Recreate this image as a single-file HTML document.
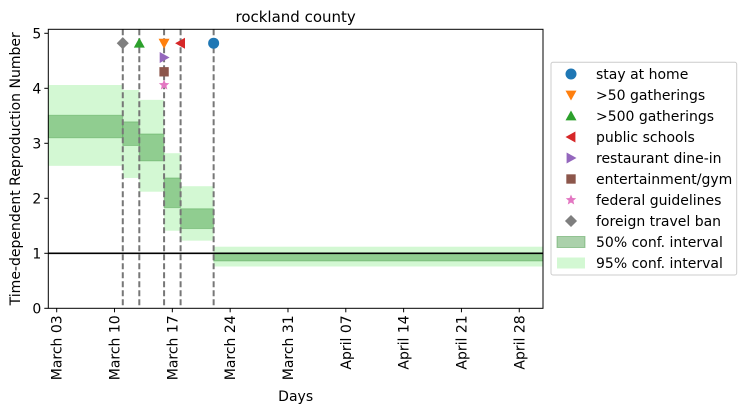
<!DOCTYPE html>
<html><head><meta charset="utf-8"><style>
body{margin:0;background:#fff;}
svg{display:block;font-family:"DejaVu Sans","Liberation Sans",sans-serif;}
</style></head><body>
<svg id="chart" width="746" height="412" viewBox="0 0 746 412" xmlns="http://www.w3.org/2000/svg"></svg>
<script>
const segStarts = [-1, 8, 10, 13, 15, 19];
const segEnds = [8, 10, 13, 15, 19, 59];
const ci95Low = [2.59, 2.37, 2.12, 1.41, 1.23, 0.76];
const ci95High = [4.06, 3.97, 3.79, 2.82, 2.22, 1.12];
const ci50Low = [3.10, 2.96, 2.68, 1.83, 1.45, 0.86];
const ci50High = [3.51, 3.39, 3.17, 2.37, 1.81, 1.00];
const eventNames = ["stay at home", ">50 gatherings", ">500 gatherings", "public schools", "restaurant dine-in", "entertainment/gym", "federal guidelines", "foreign travel ban"];
const eventDays = [19, 13, 10, 15, 13, 13, 13, 8];
const eventLevels = [4.82, 4.82, 4.82, 4.82, 4.56, 4.30, 4.06, 4.82];
const eventColors = ["#1f77b4", "#ff7f0e", "#2ca02c", "#d62728", "#9467bd", "#8c564b", "#e377c2", "#7f7f7f"];
const eventShapes = ["circle", "tdown", "tup", "tleft", "tright", "square", "star", "diamond"];
const xTickDays = [0, 7, 14, 21, 28, 35, 42, 49, 56];
const xTickLabels = ["March 03", "March 10", "March 17", "March 24", "March 31", "April 07", "April 14", "April 21", "April 28"];
const yTicks = [0, 1, 2, 3, 4, 5];

const L = 48.3, R = 543, T = 29.3, B = 308.3;
const x = d => 56.7 + d * 8.26;
const y = v => 308.3 - v * 55;
const svg = document.getElementById('chart');
const NS = "http://www.w3.org/2000/svg";
function mk(tag, attrs, parent) {
  const e = document.createElementNS(NS, tag);
  for (const k in attrs) e.setAttribute(k, attrs[k]);
  (parent || svg).appendChild(e);
  return e;
}
function marker(shape, cx, cy, r, color, parent) {
  let e;
  if (shape === "circle") e = mk('circle', {cx, cy, r: r}, parent);
  else if (shape === "square") e = mk('rect', {x: cx - r * 0.85, y: cy - r * 0.85, width: r * 1.7, height: r * 1.7}, parent);
  else {
    let pts;
    if (shape === "tdown") pts = [[-r, -r * 0.8], [r, -r * 0.8], [0, r]];
    else if (shape === "tup") pts = [[-r, r * 0.8], [r, r * 0.8], [0, -r]];
    else if (shape === "tleft") pts = [[r * 0.8, -r], [r * 0.8, r], [-r, 0]];
    else if (shape === "tright") pts = [[-r * 0.8, -r], [-r * 0.8, r], [r, 0]];
    else if (shape === "diamond") pts = [[0, -r * 1.1], [r * 1.1, 0], [0, r * 1.1], [-r * 1.1, 0]];
    else { pts = []; for (let i = 0; i < 10; i++) { const a = -Math.PI / 2 + i * Math.PI / 5; const rr = i % 2 ? r * 0.45 : r; pts.push([rr * Math.cos(a), rr * Math.sin(a)]); } }
    e = mk('polygon', {points: pts.map(p => (cx + p[0]) + ',' + (cy + p[1])).join(' ')}, parent);
  }
  e.setAttribute('fill', color);
  return e;
}
const plot = mk('g', {});


for (let i = 0; i < segStarts.length; i++) {
  const x0 = Math.max(L, x(segStarts[i])), x1 = Math.min(R, x(segEnds[i]));
  const r95 = mk('rect', {x: x0, y: y(ci95High[i]), width: x1 - x0, height: y(ci95Low[i]) - y(ci95High[i]), fill: '#90ee90', 'fill-opacity': 0.4}, plot);
  
  
  const r50 = mk('rect', {x: x0, y: y(ci50High[i]), width: x1 - x0, height: y(ci50Low[i]) - y(ci50High[i]), fill: '#2e8b2e', 'fill-opacity': 0.4, stroke: '#2e8b2e', 'stroke-opacity': 0.3}, plot);
  
  
}
const one = mk('line', {x1: L, x2: R, y1: y(1), y2: y(1), stroke: '#000', 'stroke-width': 1.6}, plot);


[...new Set(eventDays)].forEach(d => {
  const l = mk('line', {x1: x(d), x2: x(d), y1: T, y2: B, stroke: '#777', 'stroke-width': 2, 'stroke-dasharray': '6,3'}, plot);
  
  
});
for (let i = 0; i < eventNames.length; i++) {
  const m = marker(eventShapes[i], x(eventDays[i]), y(eventLevels[i]), 5.5, eventColors[i], plot);
  
  
}
const frame = mk('rect', {x: L, y: T, width: R - L, height: B - T, fill: 'none', stroke: '#000', 'stroke-width': 1});


yTicks.forEach(v => {
  mk('line', {x1: L - 4, x2: L, y1: y(v), y2: y(v), stroke: '#000'});
  const t = mk('text', {x: L - 7, y: y(v) + 5, 'text-anchor': 'end', 'font-size': 14});
  t.textContent = v;
  
  
});
xTickDays.forEach((d, i) => {
  mk('line', {x1: x(d), x2: x(d), y1: B, y2: B + 4, stroke: '#000'});
  const t = mk('text', {transform: `translate(${x(d) + 5},${B + 7}) rotate(-90)`, 'text-anchor': 'end', 'font-size': 14});
  t.textContent = xTickLabels[i];
  
  
});
const title = mk('text', {x: (L + R) / 2, y: 22, 'text-anchor': 'middle', 'font-size': 15});
title.textContent = 'rockland county';


const xt = mk('text', {x: (L + R) / 2, y: 401, 'text-anchor': 'middle', 'font-size': 14});
xt.textContent = 'Days';


const yt = mk('text', {transform: `translate(20,${(T + B) / 2}) rotate(-90)`, 'text-anchor': 'middle', 'font-size': 14});
yt.textContent = 'Time-dependent Reproduction Number';


const lg = mk('g', {});


mk('rect', {x: 551, y: 62.3, width: 185.7, height: 212.7, rx: 2, fill: '#fff', stroke: '#ccc'}, lg);
const labels = eventNames.concat(['50% conf. interval', '95% conf. interval']);
labels.forEach((s, i) => {
  const cy = 74 + i * 21;
  if (i < 8) marker(eventShapes[i], 571, cy, 5.5, eventColors[i], lg);
  else if (i === 8) mk('rect', {x: 557, y: cy - 5.5, width: 28, height: 11, fill: '#2e8b2e', 'fill-opacity': 0.4, stroke: '#2e8b2e', 'stroke-opacity': 0.4}, lg);
  else mk('rect', {x: 557, y: cy - 5.5, width: 28, height: 11, fill: '#90ee90', 'fill-opacity': 0.4}, lg);
  const t = mk('text', {x: 596, y: cy + 5, 'font-size': 14}, lg);
  t.textContent = s;
  
  
});
</script>
</body></html>
